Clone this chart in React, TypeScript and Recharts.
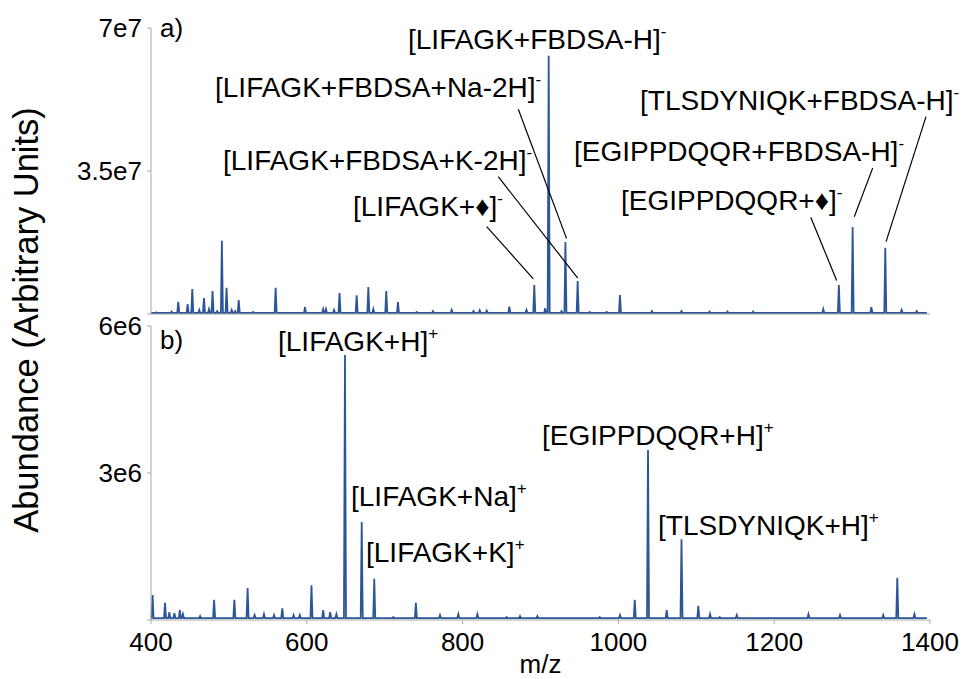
import React from 'react'
import { LineChart, Line, XAxis, YAxis, ReferenceLine } from 'recharts'

const FONT = '"Liberation Sans", Arial, sans-serif'
const BLUE = '#2c5697'
const GREY = '#a6a6a6'

// a) negative mode spectrum: peak m/z and abundance
const topMz = [
  407, 426.5, 435, 447, 453, 462, 468, 474.5, 479, 485, 491, 497, 503.6, 508, 512.6, 531, 560, 597.7,
  621, 624.6, 635, 642, 664, 679, 685.4, 702, 717, 741, 762, 786, 814, 822, 831, 860, 882, 892, 906,
  910.5, 927, 932, 947.7, 963, 985, 1002, 1043, 1081, 1117, 1140, 1173, 1263, 1283, 1300.7, 1324.7,
  1342.6, 1363.6, 1383,
]
const topAbund = [
  4e5, 6e5, 3.0e6, 2.45e6, 6.1e6, 1e6, 3.9e6, 1.2e6, 5.6e6, 7e5, 1.79e7, 6.4e6, 1e6, 7e5, 3.4e6, 5e5,
  6.4e6, 1.7e6, 1.2e6, 1.2e6, 1e6, 5.1e6, 4.6e6, 6.6e6, 1.2e6, 5.6e6, 2.9e6, 5e5, 7e5, 1e6, 7e5, 9e5,
  8e5, 1.8e6, 1e6, 7.1e6, 1.4e6, 6.32e7, 7e5, 1.76e7, 8.1e6, 5e5, 5e5, 4.65e6, 7e5, 7e5, 6e5, 6e5,
  6e5, 1.2e6, 7.1e6, 2.13e7, 1.7e6, 1.62e7, 1e6, 7e5,
]

// b) positive mode spectrum
const botMz = [
  402, 418, 423.5, 430, 437, 441, 463, 481, 507, 524, 533, 545, 558, 568.5, 583, 591, 606, 621, 630,
  638, 649, 670.5, 686.6, 711, 740, 771, 794.5, 819, 856.6, 873.7, 896, 910, 976, 1002, 1021, 1038,
  1062, 1081, 1102.6, 1117.6, 1130, 1152, 1166, 1244, 1284.5, 1340, 1358, 1380,
]
const botAbund = [
  5.1e5, 3.5e5, 1.6e5, 1.4e5, 2e5, 1.2e5, 8e4, 4.1e5, 4.1e5, 6.5e5, 1e5, 1.2e5, 1e5, 2.4e5, 1e5, 1e5,
  7.1e5, 2e5, 1.6e5, 1.2e5, 5.41e6, 2.0e6, 8.4e5, 6e4, 3.5e5, 1e5, 1.2e5, 1.2e5, 6e4, 8e4, 8e4, 4e4,
  6e4, 1e5, 4.1e5, 3.47e6, 2e5, 1.65e6, 2.9e5, 1.2e5, 6e4, 1e5, 4e4, 1.2e5, 1e5, 1e5, 8.6e5, 1.2e5,
]

const xTicks = [400, 600, 800, 1000, 1200, 1400]
const topYTicks = [0, 3.5e7, 7e7]
const topYLabels: Record<number, string> = { 35000000: '3.5e7', 70000000: '7e7' }
const botYTicks = [0, 3e6, 6e6]
const botYLabels: Record<number, string> = { 3000000: '3e6', 6000000: '6e6' }

// leader lines for the a) callouts, in m/z / abundance
const topCallouts = [
  [830.9, 2.14e7, 890.8, 8.6e6],
  [845.8, 3.36e7, 947.8, 8.8e6],
  [871.5, 5.01e7, 933.4, 1.85e7],
  [1246.9, 2.37e7, 1280.2, 8.2e6],
  [1326.4, 3.57e7, 1302.8, 2.38e7],
  [1394.9, 4.83e7, 1343.6, 1.77e7],
]

function sticks(mz: number[], ab: number[], base: number) {
  const pts: { mz: number; v: number }[] = [{ mz: 400, v: base }]
  mz.forEach((m, i) => {
    pts.push({ mz: m - 1.3, v: base })
    pts.push({ mz: m, v: ab[i] })
    pts.push({ mz: m + 1.3, v: base })
  })
  pts.push({ mz: 1396, v: base })
  return pts
}

const topData = sticks(topMz, topAbund, 2.5e5)
const botData = sticks(botMz, botAbund, 4e4)

const tickStyle = { fill: '#000', fontSize: 26, fontFamily: FONT }

function Ann({ x, y, text, sign }: { x: number; y: number; text: string; sign: string }) {
  return (
    <text x={x} y={y} fontSize={28} fontFamily={FONT} fill="#000">
      {text}
      <tspan fontSize={17} dy={-12}>{sign}</tspan>
    </text>
  )
}

export default function App() {
  return (
    <div style={{ position: 'absolute', left: 0, top: 0, width: 963, height: 679, background: '#fff' }}>
      <div style={{ position: 'absolute', left: 0, top: 0 }}>
        <LineChart width={963} height={320} data={topData} margin={{ top: 28, right: 33, bottom: 5, left: 0 }}>
          <XAxis
            dataKey="mz"
            type="number"
            domain={[400, 1400]}
            ticks={xTicks}
            height={1}
            tick={false}
            tickLine={false}
            axisLine={{ stroke: GREY }}
          />
          <YAxis
            type="number"
            domain={[0, 7e7]}
            ticks={topYTicks}
            width={151}
            tickSize={4}
            tickMargin={5}
            tick={tickStyle}
            tickFormatter={(v: number) => topYLabels[v] ?? ''}
            axisLine={{ stroke: GREY }}
            tickLine={{ stroke: GREY }}
          />
          <Line dataKey="v" type="linear" stroke={BLUE} strokeWidth={1.8} dot={false} isAnimationActive={false} />
          {topCallouts.map((c, i) => (
            <ReferenceLine
              key={i}
              segment={[{ x: c[0], y: c[1] }, { x: c[2], y: c[3] }]}
              stroke="#000"
              strokeWidth={1.2}
              ifOverflow="visible"
            />
          ))}
        </LineChart>
      </div>
      <div style={{ position: 'absolute', left: 0, top: 300 }}>
        <LineChart width={963} height={379} data={botData} margin={{ top: 26, right: 33, bottom: 8, left: 0 }}>
          <XAxis
            dataKey="mz"
            type="number"
            domain={[400, 1400]}
            ticks={xTicks}
            height={51}
            tickSize={4}
            tickMargin={9}
            tick={tickStyle}
            axisLine={{ stroke: GREY }}
            tickLine={{ stroke: GREY }}
            label={{ value: 'm/z', position: 'insideBottom', offset: -2, fill: '#000', fontSize: 26, fontFamily: FONT }}
          />
          <YAxis
            type="number"
            domain={[0, 6e6]}
            ticks={botYTicks}
            width={151}
            tickSize={4}
            tickMargin={5}
            tick={tickStyle}
            tickFormatter={(v: number) => botYLabels[v] ?? ''}
            axisLine={{ stroke: GREY }}
            tickLine={{ stroke: GREY }}
          />
          <Line dataKey="v" type="linear" stroke={BLUE} strokeWidth={1.8} dot={false} isAnimationActive={false} />
        </LineChart>
      </div>
      <svg
        width={963}
        height={679}
        style={{ position: 'absolute', left: 0, top: 0, pointerEvents: 'none' }}
      >
        <text
          transform="translate(38, 320) rotate(-90)"
          textAnchor="middle"
          fontSize={34.5}
          fontFamily={FONT}
          fill="#000"
        >
          Abundance (Arbitrary Units)
        </text>
        <text x={160} y={37} fontSize={26} fontFamily={FONT} fill="#000">a)</text>
        <text x={160} y={349} fontSize={26} fontFamily={FONT} fill="#000">b)</text>
        <Ann x={408} y={49} text="[LIFAGK+FBDSA-H]" sign="-" />
        <Ann x={215} y={97} text="[LIFAGK+FBDSA+Na-2H]" sign="-" />
        <Ann x={223} y={170} text="[LIFAGK+FBDSA+K-2H]" sign="-" />
        <Ann x={353} y={216} text="[LIFAGK+♦]" sign="-" />
        <Ann x={640} y={110} text="[TLSDYNIQK+FBDSA-H]" sign="-" />
        <Ann x={574} y={161} text="[EGIPPDQQR+FBDSA-H]" sign="-" />
        <Ann x={621} y={210} text="[EGIPPDQQR+♦]" sign="-" />
        <Ann x={278} y={351} text="[LIFAGK+H]" sign="+" />
        <Ann x={351} y={506} text="[LIFAGK+Na]" sign="+" />
        <Ann x={366} y={562} text="[LIFAGK+K]" sign="+" />
        <Ann x={542} y={445} text="[EGIPPDQQR+H]" sign="+" />
        <Ann x={658} y={535} text="[TLSDYNIQK+H]" sign="+" />
      </svg>
    </div>
  )
}
